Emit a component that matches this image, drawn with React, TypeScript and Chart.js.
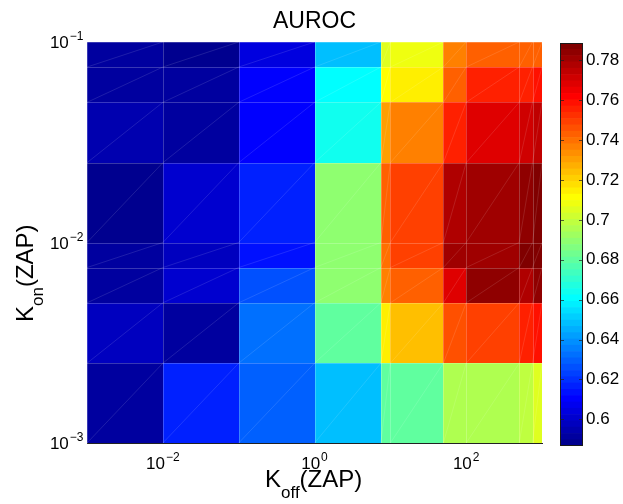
import React, { useEffect, useRef } from 'react';
import { Chart, registerables } from 'chart.js';
Chart.register(...registerables);

const FONT = "'Liberation Sans', Arial, Helvetica, sans-serif";

// Koff (x) and Kon (y) cell edges
const xEdges = [0.001, 0.01, 0.1, 1, 7.5, 10, 50, 100, 500, 750, 1000];
const yEdges = [0.001, 0.0025, 0.005, 0.0075, 0.01, 0.025, 0.05, 0.075, 0.1];

// AUROC rows, from lowest Kon to highest Kon
const konRow1 = [0.5928, 0.6164, 0.6307, 0.6492, 0.6789, 0.6789, 0.6943, 0.6943, 0.6974, 0.7056];
const konRow2 = [0.5969, 0.5907, 0.6317, 0.6789, 0.7148, 0.7230, 0.7466, 0.7497, 0.7569, 0.7600];
const konRow3 = [0.5928, 0.6010, 0.6246, 0.6902, 0.7354, 0.7436, 0.7672, 0.7836, 0.7774, 0.7836];
const konRow4 = [0.5928, 0.5969, 0.6122, 0.6892, 0.7384, 0.7507, 0.7815, 0.7805, 0.7887, 0.7880];
const konRow5 = [0.5866, 0.6000, 0.6153, 0.6902, 0.7415, 0.7507, 0.7774, 0.7805, 0.7825, 0.7887];
const konRow6 = [0.5948, 0.5928, 0.6112, 0.6625, 0.7302, 0.7354, 0.7569, 0.7672, 0.7702, 0.7733];
const konRow7 = [0.5917, 0.5907, 0.6112, 0.6594, 0.7128, 0.7159, 0.7415, 0.7569, 0.7569, 0.7579];
const konRow8 = [0.5928, 0.5887, 0.6030, 0.6492, 0.7056, 0.7097, 0.7354, 0.7415, 0.7425, 0.7415];
const aurocRows = [konRow1, konRow2, konRow3, konRow4, konRow5, konRow6, konRow7, konRow8];

const xTickExponents = [-2, 0, 2];
const yTickExponents = [-3, -2, -1];
const colorbarTicks = [0.6, 0.62, 0.64, 0.66, 0.68, 0.7, 0.72, 0.74, 0.76, 0.78];
const cMin = 0.5866;
const cMax = 0.7887;
const nColors = 64;

function jet(m: number): string[] {
  const n = Math.ceil(m / 4);
  const u: number[] = [];
  for (let i = 1; i <= n; i++) u.push(i / n);
  for (let i = 0; i < n - 1; i++) u.push(1);
  for (let i = n; i >= 1; i--) u.push(i / n);
  const off = Math.ceil(n / 2) - (m % 4 === 1 ? 1 : 0);
  const r = new Array(m).fill(0), g = new Array(m).fill(0), b = new Array(m).fill(0);
  for (let k = 0; k < u.length; k++) {
    const gi = off + k + 1, ri = gi + n, bi = gi - n;
    if (gi >= 1 && gi <= m) g[gi - 1] = u[k];
    if (ri >= 1 && ri <= m) r[ri - 1] = u[k];
    if (bi >= 1 && bi <= m) b[bi - 1] = u[k];
  }
  return r.map((_, i) => `rgb(${Math.round(r[i] * 255)},${Math.round(g[i] * 255)},${Math.round(b[i] * 255)})`);
}
const JET = jet(nColors);
function colorFor(v: number) {
  let idx = Math.floor(((v - cMin) / (cMax - cMin)) * nColors);
  idx = Math.max(0, Math.min(nColors - 1, idx));
  return JET[idx];
}

function drawPow(ctx: CanvasRenderingContext2D, x: number, y: number, exp: number, align: 'center' | 'right') {
  ctx.font = `17px ${FONT}`;
  const wb = ctx.measureText('10').width;
  ctx.font = `12px ${FONT}`;
  const es = exp < 0 ? '\u2212' + Math.abs(exp) : String(exp);
  const we = ctx.measureText(es).width;
  const total = wb + we + 1;
  const x0 = align === 'center' ? x - total / 2 : x - total;
  ctx.textAlign = 'left';
  ctx.textBaseline = 'alphabetic';
  ctx.fillStyle = '#000';
  ctx.font = `17px ${FONT}`;
  ctx.fillText('10', x0, y);
  ctx.font = `12px ${FONT}`;
  ctx.fillText(es, x0 + wb + 1, y - 8);
}

const heatmapPlugin = {
  id: 'heatmap',
  beforeDatasetsDraw(chart: any) {
    const { ctx, chartArea, scales } = chart;
    const xs = scales.x, ys = scales.y;
    ctx.save();
    ctx.beginPath();
    ctx.rect(chartArea.left, chartArea.top, chartArea.right - chartArea.left, chartArea.bottom - chartArea.top);
    ctx.clip();
    aurocRows.forEach((row, j) => {
      const B = Math.round(ys.getPixelForValue(yEdges[j]));
      const T = Math.round(ys.getPixelForValue(yEdges[j + 1]));
      row.forEach((v, i) => {
        const L = Math.round(xs.getPixelForValue(xEdges[i]));
        const R = Math.round(xs.getPixelForValue(xEdges[i + 1]));
        ctx.fillStyle = colorFor(v);
        ctx.fillRect(L, T, R - L, B - T);
      });
    });
    // faint cell edges and triangulation diagonals
    ctx.lineWidth = 1;
    ctx.strokeStyle = 'rgba(255,255,255,0.22)';
    ctx.beginPath();
    xEdges.forEach((xv) => {
      const px = Math.round(xs.getPixelForValue(xv)) + 0.5;
      ctx.moveTo(px, chartArea.top);
      ctx.lineTo(px, chartArea.bottom);
    });
    yEdges.forEach((yv) => {
      const py = Math.round(ys.getPixelForValue(yv)) + 0.5;
      ctx.moveTo(chartArea.left, py);
      ctx.lineTo(chartArea.right, py);
    });
    ctx.stroke();
    ctx.lineWidth = 0.6;
    ctx.strokeStyle = 'rgba(255,255,255,0.2)';
    ctx.beginPath();
    for (let j = 0; j < yEdges.length - 1; j++) {
      const B = ys.getPixelForValue(yEdges[j]);
      const T = ys.getPixelForValue(yEdges[j + 1]);
      for (let i = 0; i < xEdges.length - 1; i++) {
        const L = xs.getPixelForValue(xEdges[i]);
        const R = xs.getPixelForValue(xEdges[i + 1]);
        ctx.moveTo(L, B);
        ctx.lineTo(R, T);
      }
    }
    ctx.stroke();
    ctx.restore();
  },
  afterDraw(chart: any) {
    const { ctx, scales, chartArea } = chart;
    const xs = scales.x, ys = scales.y;
    ctx.save();
    // title
    ctx.fillStyle = '#000';
    ctx.textAlign = 'center';
    ctx.textBaseline = 'alphabetic';
    ctx.font = `23px ${FONT}`;
    ctx.fillText('AUROC', (chartArea.left + chartArea.right) / 2, 28);
    xTickExponents.forEach((e) => drawPow(ctx, xs.getPixelForValue(Math.pow(10, e)), 469, e, 'center'));
    yTickExponents.forEach((e) => drawPow(ctx, 83.5, ys.getPixelForValue(Math.pow(10, e)) + 6, e, 'right'));
    // x axis title K_off(ZAP)
    ctx.fillStyle = '#000';
    ctx.textAlign = 'left';
    ctx.textBaseline = 'alphabetic';
    const xStart = 265, xBase = 487;
    ctx.font = `24px ${FONT}`;
    ctx.fillText('K', xStart, xBase);
    let w = ctx.measureText('K').width;
    ctx.font = `17px ${FONT}`;
    ctx.fillText('off', xStart + w, xBase + 11);
    w += ctx.measureText('off').width;
    ctx.font = `24px ${FONT}`;
    ctx.fillText('(ZAP)', xStart + w, xBase);
    // y axis title K_on(ZAP)
    ctx.translate(33, 322);
    ctx.rotate(-Math.PI / 2);
    ctx.font = `24px ${FONT}`;
    ctx.fillText('K', 0, 0);
    let wy = ctx.measureText('K').width;
    ctx.font = `17px ${FONT}`;
    ctx.fillText('on', wy, 10);
    wy += ctx.measureText('on').width;
    ctx.font = `24px ${FONT}`;
    ctx.fillText('(ZAP)', wy, 0);
    ctx.restore();
  },
};

const colorbarPlugin = {
  id: 'colorbarFrame',
  afterDraw(chart: any) {
    const { ctx, chartArea, scales } = chart;
    const ys = scales.y;
    ctx.save();
    ctx.strokeStyle = '#1a1a1a';
    ctx.lineWidth = 1;
    ctx.strokeRect(Math.round(chartArea.left) + 0.5, Math.round(chartArea.top) + 0.5,
      Math.round(chartArea.right - chartArea.left) - 1, Math.round(chartArea.bottom - chartArea.top) - 1);
    ctx.beginPath();
    colorbarTicks.forEach((t) => {
      const py = Math.round(ys.getPixelForValue(t)) + 0.5;
      ctx.moveTo(chartArea.right - 4, py);
      ctx.lineTo(chartArea.right, py);
      ctx.moveTo(chartArea.left, py);
      ctx.lineTo(chartArea.left + 4, py);
    });
    ctx.strokeStyle = 'rgba(30,30,30,0.7)';
    ctx.stroke();
    ctx.restore();
  },
};

export default function App() {
  const mainRef = useRef<HTMLCanvasElement>(null);
  const barRef = useRef<HTMLCanvasElement>(null);

  useEffect(() => {
    Chart.defaults.font.family = FONT;
    const main = new Chart(mainRef.current as HTMLCanvasElement, {
      type: 'scatter',
      data: { datasets: [{ label: 'AUROC', data: [], pointRadius: 0 }] },
      options: {
        responsive: false,
        animation: false,
        layout: { padding: { left: 0, right: 81, top: 42, bottom: 0 } },
        plugins: {
          legend: { display: false },
          tooltip: { enabled: false },
          title: { display: false },
        },
        scales: {
          x: {
            type: 'logarithmic',
            min: 0.001,
            max: 1000,
            z: 1,
            grid: { display: false, drawTicks: false },
            border: { display: true, color: '#222', width: 1 },
            ticks: { display: false },
            afterFit: (s: any) => { s.height = 61; },
          },
          y: {
            type: 'logarithmic',
            min: 0.001,
            max: 0.1,
            z: 1,
            grid: { display: false, drawTicks: false },
            border: { display: true, color: '#333', width: 1 },
            ticks: { display: false },
            afterFit: (s: any) => { s.width = 87; },
          },
        },
      },
      plugins: [heatmapPlugin],
    } as any);

    const step = (cMax - cMin) / nColors;
    const levelDatasets = JET.map((c, i) => ({
      label: 'level' + i,
      data: [[cMin + i * step, cMin + (i + 1) * step]],
      backgroundColor: c,
      borderWidth: 0,
      grouped: false,
      barPercentage: 1,
      categoryPercentage: 1,
    }));
    const bar = new Chart(barRef.current as HTMLCanvasElement, {
      type: 'bar',
      data: { labels: [''], datasets: levelDatasets },
      options: {
        responsive: false,
        animation: false,
        layout: { padding: { left: 560, right: 0, top: 43, bottom: 58 } },
        plugins: { legend: { display: false }, tooltip: { enabled: false }, title: { display: false } },
        scales: {
          x: { display: false },
          y: {
            position: 'right',
            min: cMin,
            max: cMax,
            grid: { display: false, drawTicks: false },
            border: { display: false },
            afterBuildTicks: (s: any) => { s.ticks = colorbarTicks.map((v) => ({ value: v })); },
            afterFit: (s: any) => { s.width = 40; },
            ticks: {
              padding: 3,
              color: '#000',
              font: { size: 17, family: FONT },
              callback: (v: any) => String(Math.round(Number(v) * 100) / 100),
            },
          },
        },
      },
      plugins: [colorbarPlugin],
    } as any);

    return () => { main.destroy(); bar.destroy(); };
  }, []);

  return (
    <div style={{ position: 'absolute', left: 0, top: 0, width: 623, height: 504, background: '#fff' }}>
      <canvas ref={mainRef} width={623} height={504} style={{ position: 'absolute', left: 0, top: 0 }} />
      <canvas ref={barRef} width={623} height={504} style={{ position: 'absolute', left: 0, top: 0 }} />
    </div>
  );
}
